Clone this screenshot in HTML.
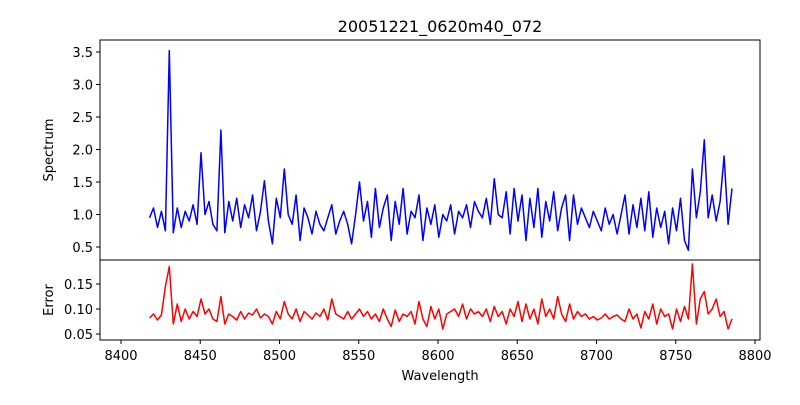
<!DOCTYPE html>
<html><head><meta charset="utf-8"><style>
body{margin:0;background:#fff}
svg text{font-family:"DejaVu Sans","Liberation Sans",sans-serif;fill:#000}
</style></head><body>
<svg id="c" width="800" height="400" viewBox="0 0 800 400" xmlns="http://www.w3.org/2000/svg">
<rect width="800" height="400" fill="#fff"/>
<text x="440" y="32" font-size="16" text-anchor="middle">20051221_0620m40_072</text>
<text transform="translate(53,150) rotate(-90)" font-size="13" text-anchor="middle">Spectrum</text>
<text transform="translate(53,300) rotate(-90)" font-size="13" text-anchor="middle">Error</text>
<text x="440" y="380" font-size="13" text-anchor="middle">Wavelength</text>
<g id="g"></g>
</svg>
<script>
const wlStart = 8418, wlStep = 2.5;
const spectrum = [
0.95,1.1,0.8,1.05,0.75,3.52,0.72,1.1,0.8,1.05,
0.9,1.15,0.85,1.95,1.0,1.2,0.85,0.75,2.3,0.72,
1.2,0.9,1.25,0.8,1.15,0.95,1.3,0.75,1.05,1.52,
0.9,0.55,1.25,0.95,1.7,1.0,0.85,1.3,0.6,1.1,
0.95,0.7,1.05,0.85,0.75,0.95,1.15,0.7,0.9,1.05,
0.85,0.55,1.0,1.5,0.9,1.2,0.65,1.4,0.8,1.1,
1.3,0.6,1.2,0.85,1.4,0.7,1.05,0.95,1.3,0.6,
1.1,0.85,1.15,0.65,1.0,0.9,1.15,0.7,1.05,0.95,
1.15,0.8,1.2,1.05,0.95,1.25,0.85,1.55,1.0,0.95,
1.35,0.7,1.4,0.9,1.3,0.6,1.25,0.8,1.4,0.65,
1.2,0.9,1.35,0.75,1.1,1.3,0.6,1.3,0.85,1.1,
0.95,0.8,1.05,0.9,0.75,1.1,0.85,1.0,0.7,1.0,
1.3,0.7,1.15,0.8,1.25,0.75,1.35,0.65,1.1,0.8,
1.05,0.55,1.1,0.75,1.25,0.6,0.45,1.7,0.95,1.35,
2.15,0.95,1.3,0.9,1.2,1.9,0.85,1.4];
const errorVals = [
0.082,0.09,0.078,0.088,0.145,0.185,0.07,0.11,0.075,0.1,
0.08,0.095,0.085,0.12,0.09,0.1,0.08,0.075,0.125,0.07,
0.09,0.085,0.078,0.095,0.08,0.092,0.088,0.1,0.082,0.09,
0.085,0.07,0.095,0.08,0.115,0.09,0.08,0.1,0.075,0.095,
0.088,0.08,0.092,0.085,0.1,0.078,0.12,0.09,0.085,0.08,
0.095,0.08,0.09,0.1,0.085,0.095,0.08,0.09,0.075,0.1,
0.08,0.065,0.098,0.075,0.09,0.085,0.095,0.07,0.115,0.08,
0.065,0.105,0.08,0.1,0.06,0.09,0.095,0.1,0.085,0.11,
0.08,0.1,0.09,0.095,0.085,0.1,0.075,0.105,0.085,0.095,
0.07,0.1,0.085,0.115,0.075,0.11,0.08,0.1,0.07,0.12,
0.085,0.1,0.08,0.125,0.09,0.075,0.11,0.08,0.095,0.085,
0.09,0.08,0.085,0.078,0.082,0.09,0.08,0.085,0.088,0.08,
0.075,0.1,0.08,0.09,0.062,0.095,0.08,0.11,0.07,0.1,
0.085,0.09,0.06,0.1,0.075,0.105,0.08,0.19,0.07,0.12,
0.135,0.09,0.1,0.12,0.085,0.095,0.06,0.08];
const xTicks = [8400,8450,8500,8550,8600,8650,8700,8750,8800];
const specTicks = [0.5,1.0,1.5,2.0,2.5,3.0,3.5];
const errTicks = [0.05,0.10,0.15];

const NS="http://www.w3.org/2000/svg";
const g=document.getElementById('g');
const X=v=>121+(v-8400)*(634/400);
const YS=v=>247-(v-0.5)*65;
const YE=v=>334-(v-0.05)*500;
function mk(t,a){const e=document.createElementNS(NS,t);for(const k in a)e.setAttribute(k,a[k]);g.appendChild(e);return e;}
function series(vals,Y,color,name){
  const pts=vals.map((v,i)=>X(wlStart+i*wlStep).toFixed(1)+','+Y(v).toFixed(1)).join(' ');
  const p=mk('polyline',{points:pts,fill:'none',stroke:color,'stroke-width':1.5,'stroke-linejoin':'round'});
  
  
}
series(spectrum,YS,'#0000ff','spectrum-line');
series(errorVals,YE,'#ff0000','error-line');
const f1=mk('rect',{x:100,y:40,width:660,height:220,fill:'none',stroke:'#000','stroke-width':1});


const f2=mk('rect',{x:100,y:260,width:660,height:80,fill:'none',stroke:'#000','stroke-width':1});


xTicks.forEach(t=>{
  mk('line',{x1:X(t),x2:X(t),y1:340,y2:344,stroke:'#000'});
  const tx=mk('text',{x:X(t),y:360,'font-size':13,'text-anchor':'middle'});tx.textContent=t;
  
  
});
specTicks.forEach(t=>{
  mk('line',{x1:96,x2:100,y1:YS(t),y2:YS(t),stroke:'#000'});
  const tx=mk('text',{x:93,y:YS(t)+5,'font-size':13,'text-anchor':'end'});tx.textContent=t.toFixed(1);
  
  
});
errTicks.forEach(t=>{
  mk('line',{x1:96,x2:100,y1:YE(t),y2:YE(t),stroke:'#000'});
  const tx=mk('text',{x:93,y:YE(t)+5,'font-size':13,'text-anchor':'end'});tx.textContent=t.toFixed(2);
  
  
});
</script>
</body></html>
